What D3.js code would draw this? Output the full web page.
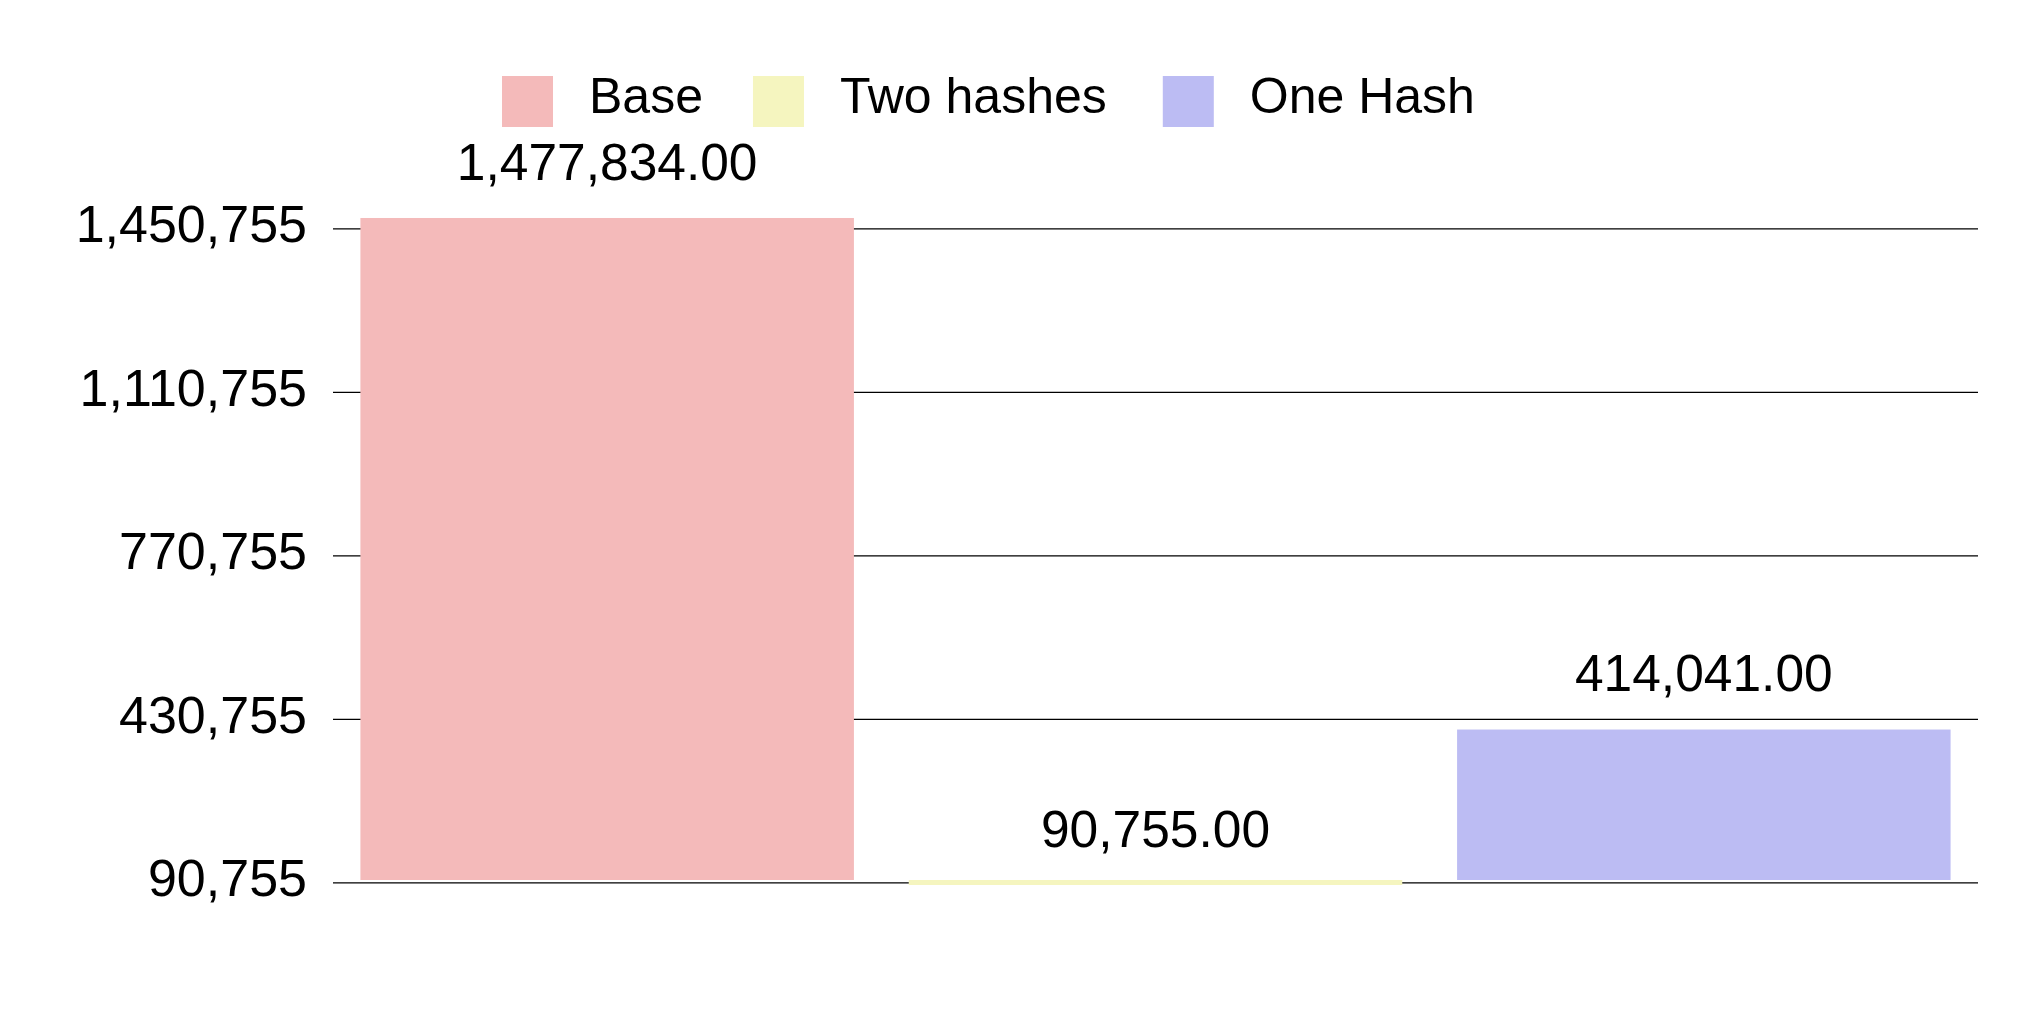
<!DOCTYPE html>
<html>
<head>
<meta charset="utf-8">
<script src="https://cdn.jsdelivr.net/npm/d3@7"></script>
<style>
  html, body { margin: 0; padding: 0; background: #fff; }
  svg { display: block; font-family: "Liberation Sans", Arial, Helvetica, sans-serif; }
</style>
</head>
<body>
<svg id="chart" width="2028" height="1024"></svg>
<script>
// ---- data ----
const categories = ["Base", "Two hashes", "One Hash"];
const values = [1477834, 90755, 414041];
const colors = ["#f4baba", "#f5f5bf", "#bcbcf3"];
const tickValues = [90755, 430755, 770755, 1110755, 1450755];

// ---- layout ----
const W = 2028, H = 1024;
const plotLeft = 333, plotRight = 1978;
const plotBottom = 882.3, plotTop = 228.3;

const svg = d3.select("#chart");

const x = d3.scaleBand()
  .domain(categories)
  .range([plotLeft, plotRight])
  .paddingInner(0.1)
  .paddingOuter(0.05);

const y = d3.scaleLinear()
  .domain([tickValues[0], tickValues[tickValues.length - 1]])
  .range([plotBottom, plotTop]);

const fmtTick = d3.format(",");
const fmtVal = d3.format(",.2f");

// ---- grid / axis ----
const axis = d3.axisLeft(y)
  .tickValues(tickValues)
  .tickFormat(fmtTick)
  .tickSize(-(plotRight - plotLeft))
  .tickPadding(26);

const gAxis = svg.append("g")
  .attr("transform", `translate(${plotLeft},0)`)
  .call(axis);
gAxis.select(".domain").remove();
gAxis.selectAll(".tick line")
  .attr("stroke", "#000")
  .attr("stroke-width", 1.2);
gAxis.selectAll(".tick text")
  .attr("fill", "#000")
  .attr("font-size", 52)
  .attr("font-family", "'Liberation Sans', Arial, sans-serif")
  .attr("dy", "13.6px");

// ---- bars ----
const insetTop = 2.7, insetBottom = 2.3;
const data = categories.map((c, i) => ({ c, v: values[i], color: colors[i] }));

svg.append("g").selectAll("rect")
  .data(data)
  .join("rect")
  .attr("x", d => x(d.c))
  .attr("width", x.bandwidth())
  .attr("y", d => Math.min(y(d.v) + insetTop, y.range()[0] - insetBottom))
  .attr("height", d => Math.abs((y.range()[0] - insetBottom) - (y(d.v) + insetTop)))
  .attr("fill", d => d.color);

svg.append("g").selectAll("text")
  .data(data)
  .join("text")
  .attr("x", d => x(d.c) + x.bandwidth() / 2)
  .attr("y", d => y(d.v) - 35.5)
  .attr("text-anchor", "middle")
  .attr("font-size", 51.5)
  .attr("fill", "#000")
  .text(d => fmtVal(d.v));

// ---- legend ----
const legend = svg.append("g");
let lx = 502;
const sw = 51, swTop = 76, textGap = 36, legendBaseline = 113.3;
const itemGaps = [50, 56, 0];
data.forEach((d, i) => {
  legend.append("rect")
    .attr("x", lx).attr("y", swTop)
    .attr("width", sw).attr("height", sw)
    .attr("fill", d.color);
  const t = legend.append("text")
    .attr("x", lx + sw + textGap)
    .attr("y", legendBaseline)
    .attr("font-size", 50)
    .attr("fill", "#000")
    .text(d.c);
  const tw = t.node().getComputedTextLength();
  lx = lx + sw + textGap + tw + itemGaps[i];
});
</script>
</body>
</html>
